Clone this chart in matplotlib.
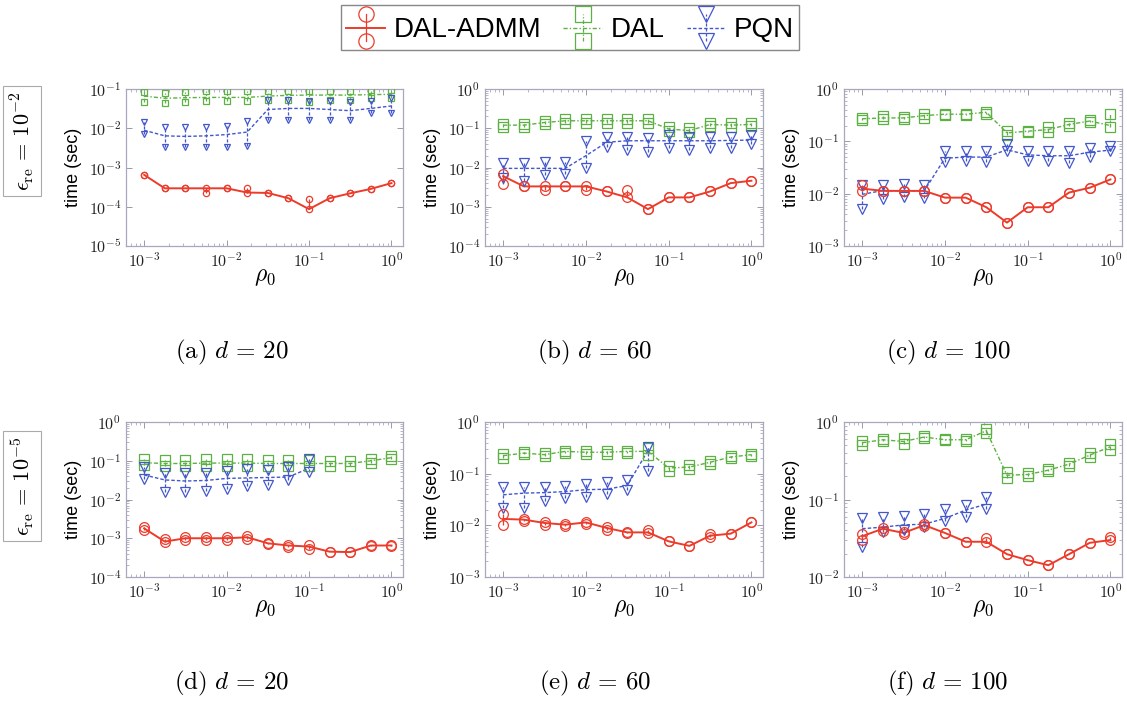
import numpy as np
import matplotlib
matplotlib.use('Agg')
import matplotlib.pyplot as plt
from matplotlib.lines import Line2D
from matplotlib.legend_handler import HandlerBase
from matplotlib.ticker import LogLocator, FuncFormatter, NullFormatter

plt.rcParams['mathtext.fontset'] = 'cm'
plt.rcParams['font.family'] = ['Liberation Sans', 'DejaVu Sans']

# rho_0 grid (13 values, quarter decades from 1e-3 to 1)
rho = [0.001, 0.00178, 0.00316, 0.00562, 0.01, 0.0178, 0.0316,
       0.0562, 0.1, 0.178, 0.316, 0.562, 1.0]

# ---- (a) eps=1e-2, d=20
admm_a_mean = [6.5e-4, 2.95e-4, 2.95e-4, 2.95e-4, 2.95e-4, 2.3e-4, 2.25e-4, 1.65e-4, 8.7e-5, 1.65e-4, 2.2e-4, 2.85e-4, 4.0e-4]
admm_a_lo = [6.5e-4, 2.95e-4, 2.95e-4, 2.25e-4, 2.95e-4, 2.3e-4, 2.25e-4, 1.65e-4, 8.7e-5, 1.65e-4, 2.2e-4, 2.85e-4, 4.0e-4]
admm_a_hi = [6.5e-4, 2.95e-4, 2.95e-4, 2.95e-4, 2.95e-4, 2.95e-4, 2.25e-4, 1.65e-4, 1.55e-4, 1.65e-4, 2.2e-4, 2.85e-4, 4.0e-4]
dal_a_mean = [0.066, 0.058, 0.060, 0.061, 0.061, 0.061, 0.066, 0.069, 0.070, 0.070, 0.070, 0.072, 0.073]
dal_a_lo = [0.047, 0.045, 0.047, 0.050, 0.050, 0.050, 0.052, 0.052, 0.047, 0.052, 0.052, 0.058, 0.058]
dal_a_hi = [0.086, 0.077, 0.086, 0.091, 0.091, 0.091, 0.091, 0.091, 0.091, 0.091, 0.091, 0.094, 0.094]
pqn_a_mean = [0.0089, 0.0064, 0.0062, 0.0064, 0.0069, 0.0080, 0.030, 0.032, 0.032, 0.030, 0.028, 0.032, 0.037]
pqn_a_lo = [0.0073, 0.0033, 0.0033, 0.0033, 0.0033, 0.0035, 0.0167, 0.0167, 0.0167, 0.0167, 0.0167, 0.0238, 0.0247]
pqn_a_hi = [0.0145, 0.0108, 0.0108, 0.0108, 0.0112, 0.0154, 0.052, 0.052, 0.050, 0.050, 0.047, 0.050, 0.058]

# ---- (b) eps=1e-2, d=60
admm_b_mean = [6.0e-3, 3.3e-3, 3.3e-3, 3.3e-3, 3.3e-3, 2.45e-3, 1.73e-3, 8.7e-4, 1.73e-3, 1.73e-3, 2.45e-3, 4.0e-3, 4.6e-3]
admm_b_lo = [3.8e-3, 3.3e-3, 2.6e-3, 3.3e-3, 2.6e-3, 2.45e-3, 1.73e-3, 8.7e-4, 1.73e-3, 1.73e-3, 2.45e-3, 4.0e-3, 4.6e-3]
admm_b_hi = [6.8e-3, 3.3e-3, 3.3e-3, 3.3e-3, 3.3e-3, 2.45e-3, 2.6e-3, 8.7e-4, 1.73e-3, 1.73e-3, 2.45e-3, 4.0e-3, 4.6e-3]
dal_b_mean = [0.12, 0.12, 0.14, 0.155, 0.155, 0.155, 0.155, 0.155, 0.096, 0.087, 0.125, 0.12, 0.125]
dal_b_lo = [0.11, 0.11, 0.125, 0.14, 0.14, 0.14, 0.14, 0.14, 0.085, 0.08, 0.115, 0.11, 0.115]
dal_b_hi = [0.13, 0.13, 0.15, 0.17, 0.17, 0.17, 0.17, 0.17, 0.11, 0.10, 0.135, 0.135, 0.135]
pqn_b_mean = [0.0095, 0.0095, 0.0095, 0.0095, 0.020, 0.044, 0.048, 0.048, 0.048, 0.048, 0.048, 0.049, 0.050]
pqn_b_lo = [0.0055, 0.0046, 0.0065, 0.0070, 0.0095, 0.033, 0.0285, 0.025, 0.031, 0.0285, 0.031, 0.031, 0.040]
pqn_b_hi = [0.013, 0.013, 0.014, 0.014, 0.046, 0.059, 0.059, 0.055, 0.068, 0.059, 0.059, 0.059, 0.068]

# ---- (c) eps=1e-2, d=100
admm_c_mean = [0.0125, 0.0113, 0.0113, 0.0113, 0.0084, 0.0084, 0.0055, 0.0028, 0.0055, 0.0055, 0.0105, 0.013, 0.0187]
admm_c_lo = [0.0113, 0.0113, 0.0113, 0.0113, 0.0084, 0.0084, 0.0055, 0.0028, 0.0055, 0.0055, 0.0105, 0.013, 0.0187]
admm_c_hi = [0.0145, 0.0113, 0.0113, 0.0113, 0.0084, 0.0084, 0.0055, 0.0028, 0.0055, 0.0055, 0.0105, 0.013, 0.0187]
dal_c_mean = [0.27, 0.28, 0.28, 0.31, 0.33, 0.33, 0.36, 0.145, 0.156, 0.168, 0.21, 0.244, 0.20]
dal_c_lo = [0.26, 0.265, 0.27, 0.28, 0.32, 0.32, 0.34, 0.135, 0.15, 0.15, 0.20, 0.235, 0.185]
dal_c_hi = [0.28, 0.30, 0.29, 0.33, 0.34, 0.34, 0.37, 0.155, 0.16, 0.185, 0.22, 0.26, 0.33]
pqn_c_mean = [0.0097, 0.0115, 0.0113, 0.0113, 0.0476, 0.050, 0.050, 0.069, 0.055, 0.053, 0.053, 0.062, 0.068]
pqn_c_lo = [0.0051, 0.0080, 0.0088, 0.0083, 0.041, 0.042, 0.041, 0.064, 0.042, 0.043, 0.038, 0.051, 0.064]
pqn_c_hi = [0.0145, 0.0145, 0.015, 0.0145, 0.064, 0.064, 0.066, 0.090, 0.066, 0.066, 0.064, 0.076, 0.081]

# ---- (d) eps=1e-5, d=20
admm_d_mean = [1.8e-3, 8.2e-4, 1.0e-3, 1.0e-3, 1.0e-3, 1.06e-3, 7.4e-4, 6.5e-4, 6.1e-4, 4.5e-4, 4.4e-4, 6.5e-4, 6.5e-4]
admm_d_lo = [1.64e-3, 8.2e-4, 9.1e-4, 9.1e-4, 9.1e-4, 9.6e-4, 7.1e-4, 6.0e-4, 5.3e-4, 4.5e-4, 4.4e-4, 6.2e-4, 6.3e-4]
admm_d_hi = [2.0e-3, 9.4e-4, 1.1e-3, 1.1e-3, 1.1e-3, 1.16e-3, 7.7e-4, 6.8e-4, 6.8e-4, 4.5e-4, 4.4e-4, 6.7e-4, 6.6e-4]
dal_d_mean = [0.089, 0.085, 0.085, 0.087, 0.087, 0.087, 0.085, 0.085, 0.085, 0.085, 0.085, 0.10, 0.12]
dal_d_lo = [0.077, 0.073, 0.073, 0.075, 0.075, 0.075, 0.073, 0.073, 0.073, 0.073, 0.073, 0.087, 0.11]
dal_d_hi = [0.108, 0.105, 0.105, 0.11, 0.11, 0.108, 0.105, 0.105, 0.105, 0.10, 0.10, 0.108, 0.132]
pqn_d_mean = [0.043, 0.032, 0.030, 0.031, 0.035, 0.036, 0.037, 0.038, 0.064]
pqn_d_lo = [0.033, 0.016, 0.016, 0.017, 0.019, 0.022, 0.023, 0.031, 0.052]
pqn_d_hi = [0.070, 0.049, 0.049, 0.049, 0.055, 0.060, 0.058, 0.067, 0.108]

# ---- (e) eps=1e-5, d=60
admm_e_mean = [0.0133, 0.0129, 0.0111, 0.0103, 0.0114, 0.0089, 0.0073, 0.0073, 0.0049, 0.0040, 0.0063, 0.0069, 0.0114]
admm_e_lo = [0.0103, 0.0120, 0.0103, 0.0098, 0.0108, 0.0081, 0.0071, 0.0070, 0.0049, 0.0040, 0.0060, 0.0069, 0.0114]
admm_e_hi = [0.0166, 0.0131, 0.0114, 0.0108, 0.0118, 0.0094, 0.0073, 0.0083, 0.0049, 0.0040, 0.0069, 0.0069, 0.0114]
dal_e_mean = [0.223, 0.25, 0.233, 0.27, 0.26, 0.26, 0.27, 0.27, 0.129, 0.134, 0.166, 0.21, 0.233]
dal_e_lo = [0.205, 0.235, 0.22, 0.25, 0.245, 0.245, 0.25, 0.23, 0.115, 0.125, 0.155, 0.20, 0.22]
dal_e_hi = [0.24, 0.265, 0.25, 0.28, 0.275, 0.275, 0.28, 0.31, 0.14, 0.145, 0.175, 0.22, 0.245]
pqn_e_mean = [0.039, 0.042, 0.043, 0.045, 0.049, 0.050, 0.059, 0.28]
pqn_e_lo = [0.0216, 0.0216, 0.030, 0.034, 0.036, 0.041, 0.0475, 0.111]
pqn_e_hi = [0.055, 0.055, 0.055, 0.058, 0.064, 0.068, 0.074, 0.33]

# ---- (f) eps=1e-5, d=100
admm_f_mean = [0.0336, 0.042, 0.037, 0.0467, 0.037, 0.0285, 0.0285, 0.0197, 0.0165, 0.0142, 0.0197, 0.0276, 0.030]
admm_f_lo = [0.030, 0.039, 0.036, 0.045, 0.037, 0.0285, 0.028, 0.0197, 0.0165, 0.0142, 0.0197, 0.0276, 0.030]
admm_f_hi = [0.0364, 0.043, 0.038, 0.049, 0.037, 0.0285, 0.0314, 0.0197, 0.0165, 0.0142, 0.0197, 0.0276, 0.0325]
dal_f_mean = [0.54, 0.59, 0.56, 0.64, 0.59, 0.59, 0.77, 0.206, 0.21, 0.239, 0.286, 0.373, 0.48]
dal_f_lo = [0.51, 0.57, 0.52, 0.62, 0.58, 0.57, 0.72, 0.19, 0.20, 0.23, 0.27, 0.35, 0.44]
dal_f_hi = [0.57, 0.61, 0.62, 0.66, 0.60, 0.61, 0.82, 0.225, 0.22, 0.25, 0.30, 0.40, 0.52]
pqn_f_mean = [0.042, 0.044, 0.047, 0.048, 0.057, 0.073, 0.087]
pqn_f_lo = [0.0245, 0.038, 0.040, 0.044, 0.053, 0.0597, 0.0765]
pqn_f_hi = [0.057, 0.060, 0.062, 0.065, 0.0765, 0.0845, 0.108]

ylims = {'a': (1e-5, 1e-1), 'b': (1e-4, 1e0), 'c': (1e-3, 1e0),
         'd': (1e-4, 1e0), 'e': (1e-3, 1e0), 'f': (1e-2, 1e0)}
dims = {'a': 20, 'b': 60, 'c': 100, 'd': 20, 'e': 60, 'f': 100}

STYLE = {
    'admm': dict(color='#ec3b2b', ls='-', lw=1.4, marker='o'),
    'dal': dict(color='#5db043', ls=(0, (3, 1.5, 1, 1.5)), lw=1.0, marker='s'),
    'pqn': dict(color='#4257cc', ls=(0, (2.5, 1.5)), lw=1.0, marker='v'),
}
names = {'admm': 'DAL-ADMM', 'dal': 'DAL', 'pqn': 'PQN'}

series = {
    'a': {'admm': (admm_a_mean, admm_a_lo, admm_a_hi), 'dal': (dal_a_mean, dal_a_lo, dal_a_hi), 'pqn': (pqn_a_mean, pqn_a_lo, pqn_a_hi)},
    'b': {'admm': (admm_b_mean, admm_b_lo, admm_b_hi), 'dal': (dal_b_mean, dal_b_lo, dal_b_hi), 'pqn': (pqn_b_mean, pqn_b_lo, pqn_b_hi)},
    'c': {'admm': (admm_c_mean, admm_c_lo, admm_c_hi), 'dal': (dal_c_mean, dal_c_lo, dal_c_hi), 'pqn': (pqn_c_mean, pqn_c_lo, pqn_c_hi)},
    'd': {'admm': (admm_d_mean, admm_d_lo, admm_d_hi), 'dal': (dal_d_mean, dal_d_lo, dal_d_hi), 'pqn': (pqn_d_mean, pqn_d_lo, pqn_d_hi)},
    'e': {'admm': (admm_e_mean, admm_e_lo, admm_e_hi), 'dal': (dal_e_mean, dal_e_lo, dal_e_hi), 'pqn': (pqn_e_mean, pqn_e_lo, pqn_e_hi)},
    'f': {'admm': (admm_f_mean, admm_f_lo, admm_f_hi), 'dal': (dal_f_mean, dal_f_lo, dal_f_hi), 'pqn': (pqn_f_mean, pqn_f_lo, pqn_f_hi)},
}


def draw(ax, key, mean, lo, hi, ms):
    st = STYLE[key]
    x = rho[:len(mean)]
    ax.plot(x, mean, color=st['color'], ls=st['ls'], lw=st['lw'], zorder=3)
    ax.vlines(x, lo, hi, colors=st['color'], linestyles=[st['ls']], lw=0.9, zorder=2)
    for ys in (lo, hi):
        ax.plot(x, ys, ls='none', marker=st['marker'], ms=ms, mfc='none',
                mec=st['color'], mew=0.9, zorder=4)


class ErrHandler(HandlerBase):
    def __init__(self, key):
        super().__init__()
        self.key = key

    def create_artists(self, legend, orig, xd, yd, width, height, fontsize, trans):
        st = STYLE[self.key]
        cx = 0.5 * width - xd
        cy = 0.5 * height - yd
        dy = 0.42 * height
        h = Line2D([-xd, width - xd], [cy, cy], color=st['color'], ls=st['ls'], lw=st['lw'])
        v = Line2D([cx, cx], [cy - dy, cy + dy], color=st['color'], ls=st['ls'], lw=0.9)
        m = Line2D([cx, cx], [cy - dy, cy + dy], ls='none', marker=st['marker'], ms=11,
                   mfc='none', mec=st['color'], mew=0.9)
        for a in (h, v, m):
            a.set_transform(trans)
        return [h, v, m]


fig = plt.figure(figsize=(11.27, 7.03), dpi=100)
W, H = 1127, 703
lefts = [126, 485, 844]
rights = [403, 763, 1122]
rows = [(89, 246), (422, 577)]
cap_x = [232, 595, 948]
cap_y = [352, 683]

fmt = FuncFormatter(lambda v, p: r'$10^{%d}$' % int(round(np.log10(v))))

for r, (top, bot) in enumerate(rows):
    for c in range(3):
        k = 'abcdef'[r * 3 + c]
        wpx = rights[c] - lefts[c]
        hpx = bot - top
        ax = fig.add_axes([lefts[c] / W, 1 - bot / H, wpx / W, hpx / H])
        ax.set_xscale('log')
        ax.set_yscale('log')
        ms = 4.5 if k == 'a' else 7
        for key in ('dal', 'pqn', 'admm'):
            mean, lo, hi = series[k][key]
            draw(ax, key, mean, lo, hi, ms)
        ax.set_xlim(10 ** -3.22, 10 ** 0.14)
        ax.set_ylim(*ylims[k])
        ax.xaxis.set_major_locator(LogLocator(base=10, numticks=10))
        ax.yaxis.set_major_locator(LogLocator(base=10, numticks=10))
        ax.xaxis.set_major_formatter(fmt)
        ax.yaxis.set_major_formatter(fmt)
        ax.xaxis.set_minor_formatter(NullFormatter())
        ax.yaxis.set_minor_formatter(NullFormatter())
        ax.tick_params(which='both', direction='in', top=True, right=True,
                       color='#9a9ab0', labelsize=11.5, labelcolor='#222222')
        ax.tick_params(which='major', length=4, width=0.7)
        ax.tick_params(which='minor', length=2, width=0.5)
        for s in ax.spines.values():
            s.set_color('#a8a8bc')
            s.set_linewidth(0.9)
        ax.set_ylabel('time (sec)', fontsize=13)
        ax.yaxis.set_label_coords(-44 / wpx, 0.5)
        ax.set_xlabel(r'$\rho_0$', fontsize=17)
        ax.xaxis.set_label_coords(0.5, -20 / hpx)
        fig.text(cap_x[c] / W, 1 - cap_y[r] / H,
                 r'$\mathrm{(%s)}\ d\,=\,%d$' % (k, dims[k]),
                 ha='center', va='center', fontsize=18)

# row labels
for yc, e in ((141, -2), (486, -5)):
    fig.text(22 / W, 1 - yc / H, r'$\epsilon_{\mathrm{re}}\,=\,10^{%d}$' % e,
             rotation=90, ha='center', va='center', fontsize=16,
             bbox=dict(boxstyle='square,pad=0.25', fc='white', ec='#aaaaaa', lw=0.8))

handles = [Line2D([], [], label=names[k]) for k in ('admm', 'dal', 'pqn')]
fig.legend(handles=handles, labels=[names[k] for k in ('admm', 'dal', 'pqn')],
           handler_map={hd: ErrHandler(k) for hd, k in zip(handles, ('admm', 'dal', 'pqn'))},
           loc='center', bbox_to_anchor=(570 / W, 1 - 27.5 / H), ncol=3, fontsize=20,
           frameon=True, fancybox=False, edgecolor='#888888', framealpha=1,
           handlelength=1.4, handleheight=1.45, handletextpad=0.3, columnspacing=0.8,
           borderpad=0.2)

fig.savefig('out.png', dpi=100, facecolor='white')
